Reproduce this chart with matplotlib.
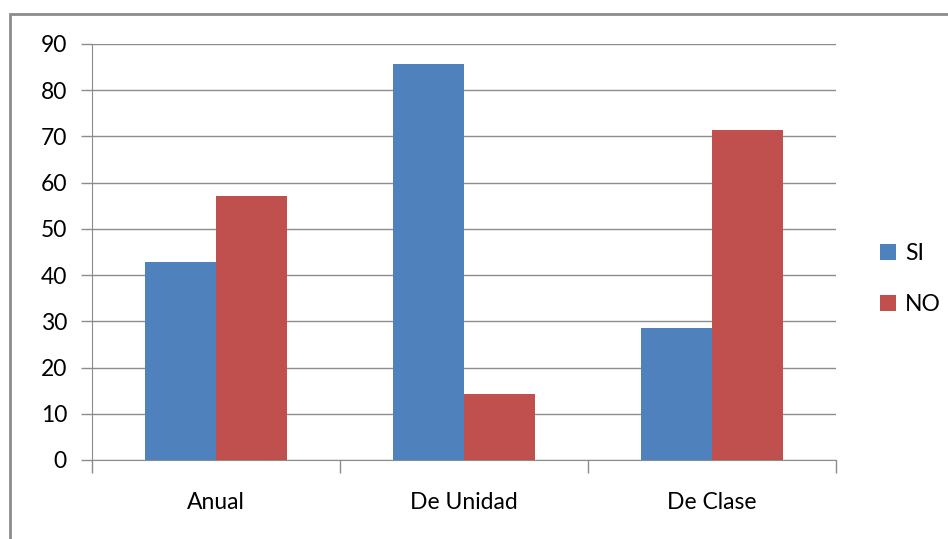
import numpy as np
import matplotlib.pyplot as plt
from matplotlib.patches import Rectangle

categories = ["Anual", "De Unidad", "De Clase"]
si_values = [42.86, 85.71, 28.57]
no_values = [57.14, 14.29, 71.43]
series_names = ["SI", "NO"]
y_ticks = [0, 10, 20, 30, 40, 50, 60, 70, 80, 90]


def main():
    plt.rcParams['font.family'] = ['Lato', 'DejaVu Sans']
    fig = plt.figure(figsize=(9.48, 5.39), dpi=100)
    ax = fig.add_axes([92 / 948, 1 - 460 / 539, (836 - 92) / 948, (460 - 44) / 539])

    # outer chart border (top/left visible)
    fig.patches.append(Rectangle((10 / 948, -0.1), 1.2, 1 - 14 / 539 + 0.1,
                                 transform=fig.transFigure, fill=False,
                                 edgecolor="#8c8c8c", linewidth=2))

    x = np.arange(len(categories))
    w = 1 / 3.5
    ax.bar(x - w / 2, si_values, w, color="#4F81BD", label=series_names[0], zorder=3)
    ax.bar(x + w / 2, no_values, w, color="#C0504D", label=series_names[1], zorder=3)

    ax.set_xlim(-0.5, len(categories) - 0.5)
    ax.set_ylim(0, 90)
    ax.set_yticks(y_ticks)
    ax.yaxis.grid(True, color="#8c8c8c", linewidth=1, zorder=0)

    ax.set_xticks(x)
    ax.set_xticklabels(categories)
    ax.set_xticks(np.arange(len(categories) + 1) - 0.5, minor=True)
    ax.tick_params(axis='x', which='major', length=0, pad=23, labelsize=16.5)
    ax.tick_params(axis='x', which='minor', length=9, color="#8c8c8c", width=1)
    ax.tick_params(axis='y', length=8, color="#8c8c8c", width=1, labelsize=16.5, pad=10)

    for side in ["top", "right"]:
        ax.spines[side].set_visible(False)
    for side in ["left", "bottom"]:
        ax.spines[side].set_color("#8c8c8c")

    ax.legend(loc="center left", bbox_to_anchor=(1.031, 0.435), frameon=False,
              fontsize=16.5, handlelength=0.7, handleheight=0.7,
              labelspacing=1.3, handletextpad=0.4)

    fig.savefig("out.png", dpi=100)


if __name__ == "__main__":
    main()
